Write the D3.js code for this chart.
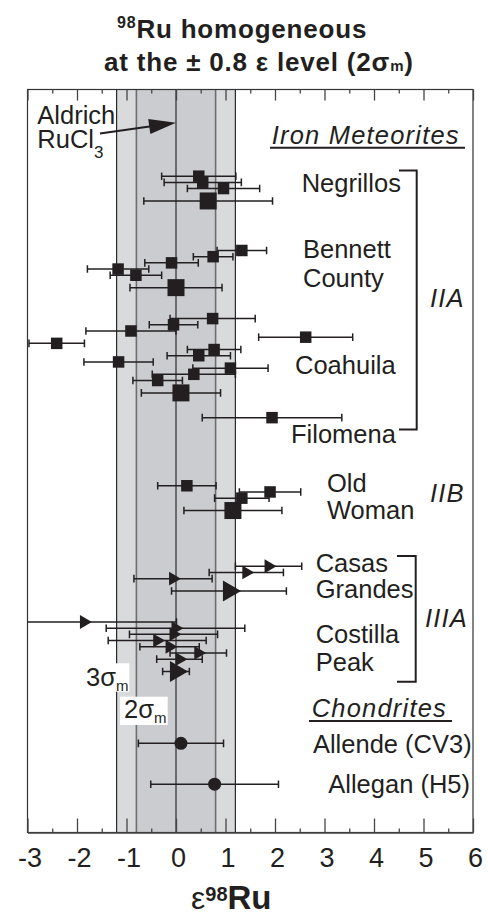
<!DOCTYPE html>
<html>
<head>
<meta charset="utf-8">
<script src="https://cdn.jsdelivr.net/npm/d3@7"></script>
<style>
body{margin:0;background:#fff}
svg{display:block;font-family:"Liberation Sans",Arial,sans-serif}
</style>
</head>
<body>
<svg id="chart"></svg>
<script>
// epsilon 98Ru of each analysis (top to bottom), its 2 sigma error,
// the vertical slot it sits in, and which marker it uses
var values = [0.46, 0.54, 0.96, 0.65,
              1.33, 0.75, -0.09, -1.17, -0.81, 0.00,
              0.74, -0.05, -0.91, 2.62, -2.41, 0.77, 0.46, -1.16, 1.10, 0.36, -0.37, 0.10,
              1.94,
              0.22, 1.90, 1.33, 1.15,
              1.87, 1.42, -0.06, 1.07,
              -1.86, -0.01, -0.05, -0.38, -0.13, 0.45, 0.07, 0.00,
              0.10, 0.78]
var errors = [0.75, 0.78, 0.73, 1.30,
              0.50, 0.40, 0.54, 0.62, 0.52, 0.93,
              0.86, 0.49, 0.91, 0.95, 0.56, 0.54, 0.64, 0.70, 0.76, 0.84, 0.50, 0.80,
              1.41,
              0.59, 0.62, 0.55, 0.99,
              0.67, 0.75, 0.79, 1.16,
              1.87, 1.40, 0.89, 0.99, 0.60, 0.57, 0.46, 0.27,
              0.86, 1.29]
var rows = [14, 15, 16, 18,
            26, 27, 28, 29, 30, 32,
            37, 38, 39, 40, 41, 42, 43, 44, 45, 46, 47, 49,
            53,
            64, 65, 66, 68,
            77, 78, 79, 81,
            86, 87, 88, 89, 90, 91, 92, 94,
            105.6, 112.2]
var markers = ["sq","sq","sq","SQ",
               "sq","sq","sq","sq","sq","SQ",
               "sq","sq","sq","sq","sq","sq","sq","sq","sq","sq","sq","SQ",
               "sq",
               "sq","sq","sq","SQ",
               "tri","tri","tri","TRI",
               "tri","tri","tri","tri","tri","tri","tri","TRI",
               "dot","dot"]

var xTicks = d3.range(-3, 7)
var xMinorTicks = d3.range(-2.5, 6, 1)
var band3s = 1.2
var band2s = 0.8

var screen = {width:488, height:914}
var margins = {top:89.5, right:15, left:27.5, bottom:81.5}
var ink = "#231f20"

var svg = d3.select("#chart")
            .attr("width", screen.width)
            .attr("height", screen.height)

var width = screen.width - margins.left - margins.right
var height = screen.height - margins.top - margins.bottom

var xScale = d3.scaleLinear().domain([-3, 6]).range([0, width])
var yScale = d3.scaleLinear().domain([0, 120]).range([0, height])

var plot = svg.append("g")
              .attr("transform", "translate(" + margins.left + "," + margins.top + ")")

// shaded 3 sigma and 2 sigma bands
plot.append("rect")
    .attr("x", xScale(-band3s))
    .attr("width", xScale(band3s) - xScale(-band3s))
    .attr("y", 0)
    .attr("height", height)
    .attr("fill", "#d9dadc")
plot.append("rect")
    .attr("x", xScale(-band2s))
    .attr("width", xScale(band2s) - xScale(-band2s))
    .attr("y", 0)
    .attr("height", height)
    .attr("fill", "#cbcccf")

var bandLines = [-band3s, -band2s, 0, band2s, band3s]
plot.selectAll(".bandline")
    .data(bandLines)
    .enter()
    .append("line")
    .attr("class", "bandline")
    .attr("x1", function(d){ return xScale(d) })
    .attr("x2", function(d){ return xScale(d) })
    .attr("y1", 0)
    .attr("y2", height)
    .attr("stroke", function(d){ return Math.abs(d) == band2s ? "#6e6e70" : "#2a2a2a" })
    .attr("stroke-width", function(d){ return Math.abs(d) == band2s ? 1.6 : 1.2 })

// white boxes behind the sigma labels
svg.append("rect").attr("x", 81.7).attr("y", 663.3).attr("width", 47.6).attr("height", 28.4).attr("fill", "#fff")
svg.append("rect").attr("x", 120).attr("y", 696.7).attr("width", 47.7).attr("height", 28.3).attr("fill", "#fff")

// frame
plot.append("rect")
    .attr("width", width)
    .attr("height", height)
    .attr("fill", "none")
    .attr("stroke", "#333")
    .attr("stroke-width", 1.2)

// ticks, pointing inside the frame
var xAxis = d3.axisBottom(xScale)
              .tickValues(xTicks)
              .tickSize(-14)
              .tickSizeOuter(0)
              .tickPadding(15)
              .tickFormat(function(d){ return String(d) })
var bottomAxis = plot.append("g")
                     .attr("id", "xAxis")
                     .attr("transform", "translate(0," + height + ")")
                     .call(xAxis)
bottomAxis.select(".domain").attr("stroke", "#444").attr("stroke-width", 1.6)
bottomAxis.selectAll(".tick line").attr("stroke", "#444").attr("stroke-width", 1.3)
bottomAxis.selectAll("text")
          .attr("font-family", "Liberation Sans, Arial, sans-serif")
          .attr("font-size", 27)
          .attr("fill", ink)
          .attr("dx", 2)

var bottomMinor = plot.append("g")
                      .attr("transform", "translate(0," + height + ")")
                      .call(d3.axisBottom(xScale).tickValues(xMinorTicks).tickSize(-4).tickFormat(""))
bottomMinor.select(".domain").remove()
bottomMinor.selectAll(".tick line").attr("stroke", "#444").attr("stroke-width", 1.3)

var topAxis = plot.append("g")
                  .call(d3.axisTop(xScale).tickValues(xTicks).tickSize(-11).tickFormat(""))
topAxis.select(".domain").remove()
topAxis.selectAll(".tick line").attr("stroke", "#444").attr("stroke-width", 1.3)

var topMinor = plot.append("g")
                   .call(d3.axisTop(xScale).tickValues(xMinorTicks).tickSize(-4).tickFormat(""))
topMinor.select(".domain").remove()
topMinor.selectAll(".tick line").attr("stroke", "#444").attr("stroke-width", 1.3)

// error bars and points
plot.append("clipPath")
    .attr("id", "clip")
    .append("rect")
    .attr("width", width)
    .attr("height", height)

var points = d3.range(values.length)
var capH = 3.8

var bars = plot.append("g")
               .attr("clip-path", "url(#clip)")
               .attr("stroke", ink)
               .attr("stroke-width", 1.5)
               .selectAll("g")
               .data(points)
               .enter()
               .append("g")
bars.append("line")
    .attr("x1", function(i){ return xScale(values[i] - errors[i]) })
    .attr("x2", function(i){ return xScale(values[i] + errors[i]) })
    .attr("y1", function(i){ return yScale(rows[i]) })
    .attr("y2", function(i){ return yScale(rows[i]) })
bars.append("line")
    .attr("x1", function(i){ return xScale(values[i] - errors[i]) })
    .attr("x2", function(i){ return xScale(values[i] - errors[i]) })
    .attr("y1", function(i){ return yScale(rows[i]) - capH })
    .attr("y2", function(i){ return yScale(rows[i]) + capH })
bars.append("line")
    .attr("x1", function(i){ return xScale(values[i] + errors[i]) })
    .attr("x2", function(i){ return xScale(values[i] + errors[i]) })
    .attr("y1", function(i){ return yScale(rows[i]) - capH })
    .attr("y2", function(i){ return yScale(rows[i]) + capH })

var squareSide = {sq:11.5, SQ:17}
var triangleSize = {tri:83, TRI:190}

var marks = plot.append("g").attr("fill", ink)
marks.selectAll("rect")
     .data(points.filter(function(i){ return markers[i] == "sq" || markers[i] == "SQ" }))
     .enter()
     .append("rect")
     .attr("x", function(i){ return xScale(values[i]) - squareSide[markers[i]] / 2 })
     .attr("y", function(i){ return yScale(rows[i]) - squareSide[markers[i]] / 2 })
     .attr("width", function(i){ return squareSide[markers[i]] })
     .attr("height", function(i){ return squareSide[markers[i]] })
marks.selectAll("path")
     .data(points.filter(function(i){ return markers[i] == "tri" || markers[i] == "TRI" }))
     .enter()
     .append("path")
     .attr("d", function(i){ return d3.symbol().type(d3.symbolTriangle).size(triangleSize[markers[i]])() })
     .attr("transform", function(i){ return "translate(" + xScale(values[i]) + "," + yScale(rows[i]) + ") rotate(90)" })
marks.selectAll("circle")
     .data(points.filter(function(i){ return markers[i] == "dot" }))
     .enter()
     .append("circle")
     .attr("cx", function(i){ return xScale(values[i]) })
     .attr("cy", function(i){ return yScale(rows[i]) })
     .attr("r", 6.5)

// text
var label = function(txt, x, y, italic, anchor)
{
    return svg.append("text")
              .attr("x", x)
              .attr("y", y)
              .attr("font-size", 25.5)
              .attr("fill", ink)
              .attr("font-style", italic ? "italic" : null)
              .attr("letter-spacing", italic ? 1.2 : null)
              .attr("text-anchor", anchor || "start")
              .text(txt)
}

var t1 = svg.append("text").attr("x", 117).attr("y", 38.3).attr("font-weight", "bold").attr("fill", ink).attr("letter-spacing", 0.8)
t1.append("tspan").attr("font-size", 16).attr("dy", -10).text("98")
t1.append("tspan").attr("font-size", 26).attr("dy", 10).text("Ru homogeneous")

var t2 = svg.append("text").attr("x", 104).attr("y", 70.5).attr("font-weight", "bold").attr("fill", ink).attr("font-size", 26).attr("letter-spacing", 0.8)
t2.append("tspan").text("at the \u00b1 0.8 \u03b5 level (2\u03c3")
t2.append("tspan").attr("font-size", 15).text("m")
t2.append("tspan").text(")")

label("Aldrich", 37.3, 123.5)
var ru = label("", 37.3, 148.3)
ru.append("tspan").text("RuCl")
ru.append("tspan").attr("font-size", 17).attr("dy", 9.5).text("3")

// arrow to the reference standard
var tail = [100, 133.5], tip = [margins.left + xScale(0), 122.7]
var dx = tip[0] - tail[0], dy = tip[1] - tail[1]
var len = Math.sqrt(dx * dx + dy * dy)
var ux = dx / len, uy = dy / len
var headL = 27, headW = 7.5
var bx = tip[0] - ux * headL, by = tip[1] - uy * headL
svg.append("line")
   .attr("x1", tail[0]).attr("y1", tail[1])
   .attr("x2", bx + ux * 2).attr("y2", by + uy * 2)
   .attr("stroke", ink).attr("stroke-width", 2)
svg.append("path")
   .attr("d", "M" + tip[0] + "," + tip[1] +
              "L" + (bx - uy * headW) + "," + (by + ux * headW) +
              "L" + (bx + uy * headW) + "," + (by - ux * headW) + "Z")
   .attr("fill", ink)

label("Iron Meteorites", 271.7, 144, true)
svg.append("line").attr("x1", 270).attr("x2", 465).attr("y1", 147.8).attr("y2", 147.8).attr("stroke", ink).attr("stroke-width", 2)

label("Negrillos", 301.7, 191.7)
label("Bennett", 303, 258.3)
label("County", 303, 286.7)
label("Coahuila", 295, 374)
label("Filomena", 291, 442.7)
label("IIA", 430, 307.3, true)
label("Old", 327, 491.7)
label("Woman", 327, 519.3)
label("IIB", 430, 501.7, true)
label("Casas", 315.7, 571.7)
label("Grandes", 315.7, 598.3)
label("Costilla", 315.7, 643.3)
label("Peak", 315.7, 670.7)
label("IIIA", 425, 627.3, true)

label("Chondrites", 311.7, 716.7, true)
svg.append("line").attr("x1", 309).attr("x2", 452).attr("y1", 721).attr("y2", 721).attr("stroke", ink).attr("stroke-width", 2)
label("Allende (CV3)", 471.7, 753.3, false, "end")
label("Allegan (H5)", 470, 792.7, false, "end")

// group brackets
var bracket = function(x0, x1, y0, y1)
{
    svg.append("path")
       .attr("d", "M" + x0 + "," + y0 + "H" + x1 + "V" + y1 + "H" + x0)
       .attr("fill", "none")
       .attr("stroke", ink)
       .attr("stroke-width", 2)
}
bracket(399, 416.7, 170.5, 429.5)
bracket(397, 415.7, 556, 681.7)

var s3 = label("", 86, 686)
s3.append("tspan").text("3\u03c3")
s3.append("tspan").attr("font-size", 15).attr("dy", 4.5).text("m")
var s2 = label("", 124, 718.3)
s2.append("tspan").text("2\u03c3")
s2.append("tspan").attr("font-size", 15).attr("dy", 4.5).text("m")

// axis title
var xt = svg.append("text").attr("x", 191).attr("y", 908.5).attr("fill", ink)
xt.append("tspan").attr("font-size", 32).text("\u03b5")
xt.append("tspan").attr("font-size", 20).attr("font-weight", "bold").attr("dy", -8).text("98")
xt.append("tspan").attr("font-size", 33).attr("font-weight", "bold").attr("dy", 8).text("Ru")
</script>
</body>
</html>
